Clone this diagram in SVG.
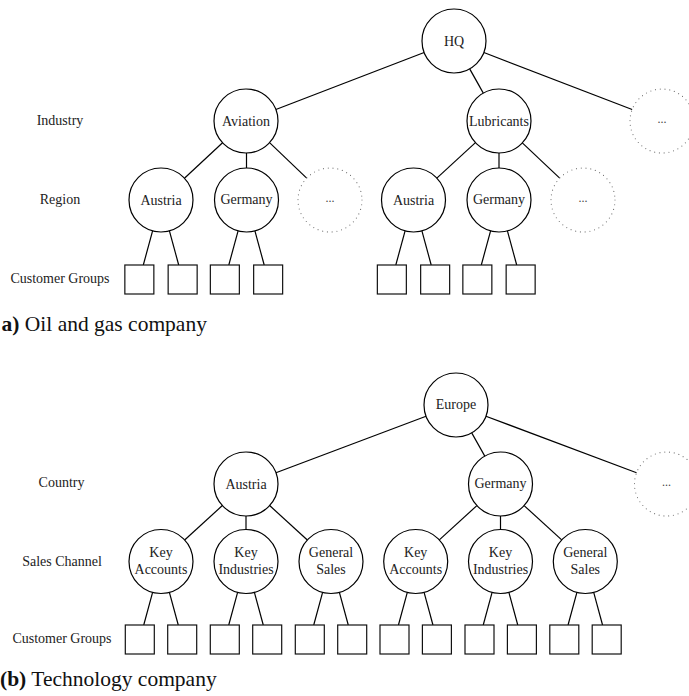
<svg xmlns="http://www.w3.org/2000/svg" width="689" height="696" viewBox="0 0 689 696">
  <style>
    .node { fill: #fff; stroke: #000; stroke-width: 1.2; }
    .more { fill: none; stroke: #777; stroke-width: 1.2; stroke-dasharray: 0 4.8; stroke-linecap: round; }
    .leaf { fill: #fff; stroke: #111; stroke-width: 1.2; }
    .lbl { font-family: "Liberation Serif", "DejaVu Serif", serif; font-size: 14px; fill: #222; text-anchor: middle; }
    .dots { font-family: "Liberation Serif", serif; font-size: 12px; fill: #444; text-anchor: middle; }
    .cap { font-family: "Liberation Serif", "DejaVu Serif", serif; font-size: 21.5px; fill: #111; }
    .edges line { stroke: #000; stroke-width: 1.2; }
  </style>
  <rect width="689" height="696" fill="#fff"/>

  <!-- ===== (a) oil and gas company ===== -->
  <g id="edges-a" class="edges">
    <line x1="424.13" y1="52.49" x2="275.87" y2="109.51"/>
    <line x1="469.69" y1="68.89" x2="483.31" y2="93.11"/>
    <line x1="483.87" y1="52.49" x2="632.13" y2="109.51"/>
    <line x1="222.56" y1="142.79" x2="184.44" y2="178.21"/>
    <line x1="246.5" y1="153" x2="246.5" y2="168"/>
    <line x1="269.81" y1="142.92" x2="306.69" y2="178.08"/>
    <line x1="475.43" y1="142.65" x2="436.57" y2="178.35"/>
    <line x1="499" y1="153" x2="499" y2="168"/>
    <line x1="522.31" y1="142.92" x2="559.69" y2="178.08"/>
    <!-- region to customer groups -->
    <line x1="152.59" y1="230.87" x2="143.3" y2="265"/>
    <line x1="169.41" y1="230.87" x2="178.7" y2="265"/>
    <line x1="238.09" y1="230.87" x2="228.8" y2="265"/>
    <line x1="254.91" y1="230.87" x2="264.2" y2="265"/>
    <line x1="405.09" y1="230.87" x2="395.8" y2="265"/>
    <line x1="421.91" y1="230.87" x2="431.2" y2="265"/>
    <line x1="490.59" y1="230.87" x2="481.3" y2="265"/>
    <line x1="507.41" y1="230.87" x2="516.7" y2="265"/>
  </g>

  <text class="lbl" x="60" y="125">Industry</text>
  <text class="lbl" x="60" y="204">Region</text>
  <text class="lbl" x="60" y="283">Customer Groups</text>

  <g id="a-hq"><circle class="node" cx="454" cy="41" r="32"/><text class="lbl" x="454" y="45.5">HQ</text></g>
  <g id="a-aviation"><circle class="node" cx="246" cy="121" r="32"/><text class="lbl" x="246" y="125.5">Aviation</text></g>
  <g id="a-lubricants"><circle class="node" cx="499" cy="121" r="32"/><text class="lbl" x="499" y="125.5">Lubricants</text></g>
  <g id="a-industry-more"><circle class="more" cx="662" cy="121" r="32"/><text class="dots" x="662" y="123">...</text></g>

  <g id="a-av-austria"><circle class="node" cx="161" cy="200" r="32"/><text class="lbl" x="161" y="205">Austria</text></g>
  <g id="a-av-germany"><circle class="node" cx="246.5" cy="200" r="32"/><text class="lbl" x="246.5" y="203.5">Germany</text></g>
  <g id="a-av-more"><circle class="more" cx="330" cy="200" r="32"/><text class="dots" x="330" y="202">...</text></g>
  <g id="a-lub-austria"><circle class="node" cx="413.5" cy="200" r="32"/><text class="lbl" x="413.5" y="205">Austria</text></g>
  <g id="a-lub-germany"><circle class="node" cx="499" cy="200" r="32"/><text class="lbl" x="499" y="203.5">Germany</text></g>
  <g id="a-lub-more"><circle class="more" cx="583" cy="200" r="32"/><text class="dots" x="583" y="202">...</text></g>

  <g id="a-groups">
    <rect class="leaf" x="124.85" y="265" width="29" height="29"/>
    <rect class="leaf" x="168.15" y="265" width="29" height="29"/>
    <rect class="leaf" x="210.35" y="265" width="29" height="29"/>
    <rect class="leaf" x="253.65" y="265" width="29" height="29"/>
    <rect class="leaf" x="377.35" y="265" width="29" height="29"/>
    <rect class="leaf" x="420.65" y="265" width="29" height="29"/>
    <rect class="leaf" x="462.85" y="265" width="29" height="29"/>
    <rect class="leaf" x="506.15" y="265" width="29" height="29"/>
  </g>

  <text class="cap" x="1.5" y="331"><tspan font-weight="bold">a)</tspan> Oil and gas company</text>

  <!-- ===== (b) technology company ===== -->
  <g id="edges-b" class="edges">
    <line x1="426.05" y1="416.27" x2="275.95" y2="472.73"/>
    <line x1="471.71" y1="432.88" x2="484.79" y2="456.12"/>
    <line x1="485.96" y1="416.24" x2="636.54" y2="472.76"/>
    <line x1="222.35" y1="505.56" x2="184.65" y2="539.94"/>
    <line x1="246" y1="516" x2="246" y2="529.5"/>
    <line x1="269.65" y1="505.56" x2="307.35" y2="539.94"/>
    <line x1="476.88" y1="505.59" x2="439.32" y2="539.91"/>
    <line x1="500.5" y1="516" x2="500.5" y2="529.5"/>
    <line x1="524.12" y1="505.59" x2="561.68" y2="539.91"/>
    <!-- sales channel to customer groups -->
    <line x1="152.61" y1="592.38" x2="143.74" y2="625"/>
    <line x1="169.39" y1="592.38" x2="178.26" y2="625"/>
    <line x1="237.61" y1="592.38" x2="228.74" y2="625"/>
    <line x1="254.39" y1="592.38" x2="263.26" y2="625"/>
    <line x1="322.61" y1="592.38" x2="313.74" y2="625"/>
    <line x1="339.39" y1="592.38" x2="348.26" y2="625"/>
    <line x1="407.31" y1="592.38" x2="398.44" y2="625"/>
    <line x1="424.09" y1="592.38" x2="432.96" y2="625"/>
    <line x1="492.11" y1="592.38" x2="483.24" y2="625"/>
    <line x1="508.89" y1="592.38" x2="517.76" y2="625"/>
    <line x1="576.91" y1="592.38" x2="568.04" y2="625"/>
    <line x1="593.69" y1="592.38" x2="602.56" y2="625"/>
  </g>

  <text class="lbl" x="61.5" y="487">Country</text>
  <text class="lbl" x="62" y="565.5">Sales Channel</text>
  <text class="lbl" x="62" y="643">Customer Groups</text>

  <g id="b-europe"><circle class="node" cx="456" cy="405" r="32"/><text class="lbl" x="456" y="409">Europe</text></g>
  <g id="b-austria"><circle class="node" cx="246" cy="484" r="32"/><text class="lbl" x="246" y="488.5">Austria</text></g>
  <g id="b-germany"><circle class="node" cx="500.5" cy="484" r="32"/><text class="lbl" x="500.5" y="487.5">Germany</text></g>
  <g id="b-country-more"><circle class="more" cx="666.5" cy="484" r="32"/><text class="dots" x="666.5" y="486">...</text></g>

  <g id="b-at-key-accounts"><circle class="node" cx="161" cy="561.5" r="32"/><text class="lbl" x="161" y="557">Key</text><text class="lbl" x="161" y="573.5">Accounts</text></g>
  <g id="b-at-key-industries"><circle class="node" cx="246" cy="561.5" r="32"/><text class="lbl" x="246" y="557">Key</text><text class="lbl" x="246" y="573.5">Industries</text></g>
  <g id="b-at-general-sales"><circle class="node" cx="331" cy="561.5" r="32"/><text class="lbl" x="331" y="557">General</text><text class="lbl" x="331" y="573.5">Sales</text></g>
  <g id="b-de-key-accounts"><circle class="node" cx="415.7" cy="561.5" r="32"/><text class="lbl" x="415.7" y="557">Key</text><text class="lbl" x="415.7" y="573.5">Accounts</text></g>
  <g id="b-de-key-industries"><circle class="node" cx="500.5" cy="561.5" r="32"/><text class="lbl" x="500.5" y="557">Key</text><text class="lbl" x="500.5" y="573.5">Industries</text></g>
  <g id="b-de-general-sales"><circle class="node" cx="585.3" cy="561.5" r="32"/><text class="lbl" x="585.3" y="557">General</text><text class="lbl" x="585.3" y="573.5">Sales</text></g>

  <g id="b-groups">
    <rect class="leaf" x="125.3" y="625" width="29" height="29"/>
    <rect class="leaf" x="167.7" y="625" width="29" height="29"/>
    <rect class="leaf" x="210.3" y="625" width="29" height="29"/>
    <rect class="leaf" x="252.7" y="625" width="29" height="29"/>
    <rect class="leaf" x="295.3" y="625" width="29" height="29"/>
    <rect class="leaf" x="337.7" y="625" width="29" height="29"/>
    <rect class="leaf" x="380" y="625" width="29" height="29"/>
    <rect class="leaf" x="422.4" y="625" width="29" height="29"/>
    <rect class="leaf" x="465" y="625" width="29" height="29"/>
    <rect class="leaf" x="507.4" y="625" width="29" height="29"/>
    <rect class="leaf" x="549.8" y="625" width="29" height="29"/>
    <rect class="leaf" x="592.2" y="625" width="29" height="29"/>
  </g>

  <text class="cap" x="0" y="686"><tspan font-weight="bold">(b)</tspan> Technology company</text>
</svg>
